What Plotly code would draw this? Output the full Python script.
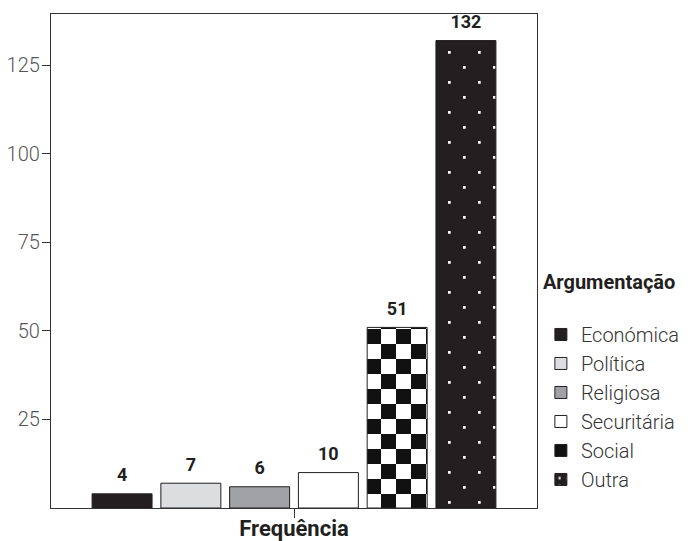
import plotly.graph_objects as go

category = ["Frequência"]
series_names = ["Económica", "Política", "Religiosa", "Securitária", "Social", "Outra"]
series_values = [4, 7, 6, 10, 51, 132]
y_tick_values = [25, 50, 75, 100, 125]
y_tick_labels = ["25", "50", "75", "100", "125"]

fill_colors = ["#231f20", "#dcdddf", "#a1a2a5", "#ffffff", "#ffffff", "#231f20"]

CHECKER = "M0,0H15V15H0Z M15,15H30V30H15Z"
DOTS = "M7,7H9.7V9.7H7Z M22,22H24.7V24.7H22Z"

fig = go.Figure()

def pattern_for(i):
    if series_names[i] == "Social":
        return dict(path=CHECKER, size=30, fgcolor="#111111", bgcolor="#ffffff", fgopacity=1)
    if series_names[i] == "Outra":
        return dict(path=DOTS, size=30, fgcolor="#ffffff", bgcolor="#231f20", fgopacity=1)
    return None

for i, name in enumerate(series_names):
    marker = dict(color=fill_colors[i], line=dict(color="#231f20", width=1))
    pat = pattern_for(i)
    if pat is not None:
        marker["pattern"] = pat
    fig.add_trace(go.Bar(
        x=category, y=[series_values[i]], name=name, marker=marker,
        offsetgroup=str(i), hoverinfo="skip",
    ))

for i, name in enumerate(series_names):
    fig.add_trace(go.Scatter(
        x=category, y=[series_values[i]], mode="markers+text",
        text=[f"<b>{series_values[i]}</b>"], textposition="top center",
        textfont=dict(family="Roboto", size=18, color="#231f20"),
        marker=dict(size=11, opacity=0), showlegend=False,
        offsetgroup=str(i), hoverinfo="skip", cliponaxis=False,
    ))

fig.update_layout(
    width=690, height=541,
    template="none",
    paper_bgcolor="white", plot_bgcolor="white",
    margin=dict(l=51, r=153, t=14, b=33, autoexpand=False),
    barmode="group", bargap=0.151, bargroupgap=0.128,
    scattermode="group", scattergap=0.151,
    font=dict(family="Roboto", size=18, color="#444444"),
    legend=dict(
        x=1.008, xanchor="left", y=0.496, yanchor="top",
        title=dict(text="<b>Argumentação</b><br> ", font=dict(family="Roboto", size=20, color="#231f20")),
        font=dict(family="Roboto", size=20, color="#333333", weight=300),
        bgcolor="rgba(0,0,0,0)", borderwidth=0,
    ),
    xaxis=dict(
        type="category", range=[-0.5, 0.5], automargin=False,
        showline=True, mirror=True, linecolor="#333333", linewidth=1.3,
        ticks="outside", ticklen=9, tickcolor="#333333", tickwidth=1.3,
        ticklabelstandoff=-9,
        tickfont=dict(family="Roboto", size=22, color="#231f20", weight="bold"),
        showgrid=False, zeroline=False,
    ),
    yaxis=dict(
        range=[0, 139.5], automargin=False,
        tickvals=y_tick_values, ticktext=y_tick_labels,
        showline=True, mirror=True, linecolor="#333333", linewidth=1.3,
        ticks="outside", ticklen=8, tickcolor="#333333", tickwidth=1.3,
        ticklabelstandoff=-2,
        tickfont=dict(family="Roboto", size=20, color="#555555", weight=300),
        showgrid=False, zeroline=False,
    ),
)

fig.write_html("out.html")
